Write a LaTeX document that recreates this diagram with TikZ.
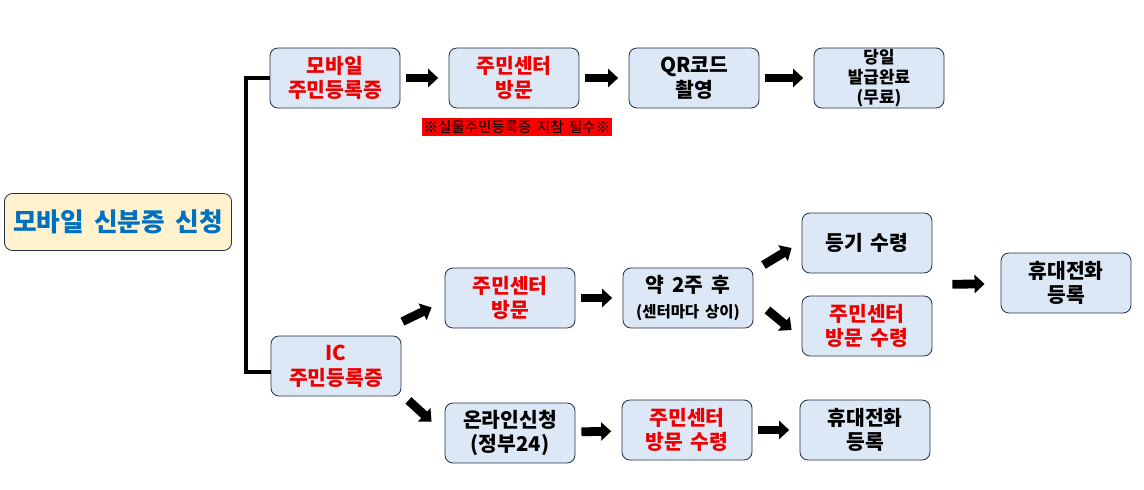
\documentclass[tikz,border=0pt]{standalone}
\usepackage{fontspec}
\setmainfont{Noto Sans CJK KR}[WordSpace=1.7]
\usepackage{tikz}
\usetikzlibrary{calc}
\usetikzlibrary{arrows.meta, shapes}
\definecolor{boxblue}{RGB}{221,232,246}
\definecolor{boxline}{RGB}{38,50,72}
\definecolor{titlefill}{RGB}{255,242,204}
\definecolor{titleblue}{RGB}{0,112,192}
\definecolor{notered}{RGB}{255,0,0}
\definecolor{txtred}{RGB}{238,0,0}

\begin{document}
\begin{tikzpicture}[x=0.025cm, y=-0.025cm]
\tikzstyle{step_box}=[rectangle, rounded corners=0.2cm, fill=boxblue, draw=boxline, line width=0.6pt, minimum width=3.25cm, minimum height=1.5cm, align=center, inner sep=1pt, font=\fontsize{14.5}{17.5}\selectfont\bfseries]
\tikzstyle{step_red}=[step_box, text=txtred]
\tikzstyle{title_box}=[step_box, fill=titlefill, text=titleblue, minimum width=5.675cm, minimum height=1.425cm, font=\fontsize{18.3}{22}\selectfont\bfseries]
\tikzstyle{note}=[rectangle, fill=notered, inner sep=1pt, minimum width=4.6cm, minimum height=0.45cm, font=\fontsize{10.3}{11}\selectfont]
\tikzstyle{blk}=[-{Triangle[width=0.45cm, length=0.25cm]}, line width=0.22cm, shorten <=0.15cm, shorten >=0.26cm]

\useasboundingbox (0,0) rectangle (1144,490);

\path (118,222) node[title_box](T) {모바일 신분증 신청}
      (335,78) node[step_red](M) {모바일\\주민등록증}
      (514,78) node[step_red](C1) {주민센터\\방문}
      (694,78) node[step_box](QR) {QR코드\\촬영}
      (879,78) node[step_box, font=\fontsize{12}{14}\selectfont\bfseries](D) {당일\\발급완료\\(무료)}
      (517,127) node[note](N) {※실물주민등록증 지참 필수※}
      (336,366) node[step_red](IC) {IC\\주민등록증}
      (510,298) node[step_red](C2) {주민센터\\방문}
      (688,298) node[step_box](W) {약 2주 후\\{\fontsize{11}{13}\selectfont (센터마다 상이)}}
      (867,243) node[step_box](G) {등기 수령}
      (867,326) node[step_red](R) {주민센터\\방문 수령}
      (1066,283) node[step_box](H) {휴대전화\\등록}
      (510,433) node[step_box](ON) {온라인신청\\(정부24)}
      (687,430) node[step_red](B2) {주민센터\\방문 수령}
      (865,430) node[step_box](B3) {휴대전화\\등록};

% bracket
\draw[line width=0.1cm] (M.west) -- ++(-24,0) |- ([shift={(0,6)}]IC.west);

% mobile
\draw[blk] (M) -- (C1);
\draw[blk] (C1) -- (QR);
\draw[blk] (QR) -- (D);

% IC
\draw[blk, shorten <=0pt, shorten >=0pt] ([shift={(1,-14)}]IC.north east) -- ([shift={(-13,-21)}]C2.south west);
\draw[blk, shorten <=0pt, shorten >=0pt] ([shift={(7,4)}]IC.south east) -- ([shift={(-13,19)}]ON.north west);
\draw[blk] (C2) -- (W);
\draw[blk, shorten <=0pt, shorten >=0pt] ([shift={(10,-33)}]W.east) -- ([shift={(-10,5)}]G.west);
\draw[blk, shorten <=0pt, shorten >=0pt] ([shift={(14,12)}]W.east) -- ([shift={(-10,4)}]R.west);
\draw[blk, shorten <=0.5cm, shorten >=0.4cm] ($(G.east)!0.5!(R.east)$) -- (H);
\draw[blk] (ON) -- (B2);
\draw[blk] (B2) -- (B3);

\end{tikzpicture}
\end{document}
